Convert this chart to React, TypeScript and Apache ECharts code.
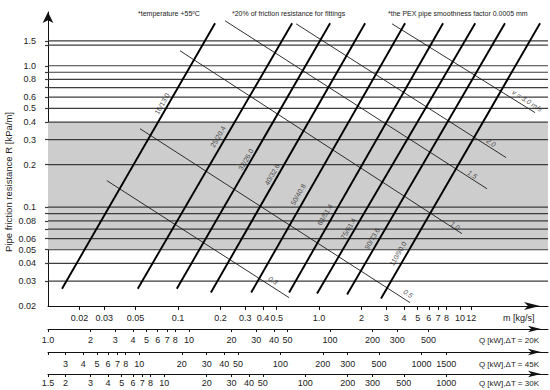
import React, { useEffect, useRef } from "react";
import * as echarts from "echarts";

const FONT = "'Liberation Sans', Arial, Helvetica, sans-serif";

// ---- axis ranges (m in kg/s, R in kPa/m) ----
const M_MIN = 1 / 83.6; // so that Q(ΔT=20K) starts at 1.0 kW
const M_MAX = 42;
const R_MIN = 0.02;
const R_MAX = 2.4;
const CP = 4.18; // kJ/(kg·K)

// ---- y axis (friction resistance R) ----
const rTicks = [1.5, 1.0, 0.8, 0.6, 0.5, 0.4, 0.3, 0.2, 0.1, 0.08, 0.06, 0.05, 0.04, 0.03, 0.02];
const rTickLabels = ["1.5", "1.0", "0.8", "0.6", "0.5", "0.4", "0.3", "0.2", "0.1", "0.08", "0.06", "0.05", "0.04", "0.03", "0.02"];
const rGridLines = [1.5, 1.4, 1.0, 0.9, 0.8, 0.7, 0.6, 0.5, 0.4, 0.3, 0.2, 0.1, 0.09, 0.08, 0.07, 0.06, 0.05, 0.04, 0.03];
const shadedBand = [0.05, 0.4];

// ---- x axis (mass flow m) ----
const mTicks = [0.02, 0.03, 0.05, 0.1, 0.2, 0.3, 0.4, 0.5, 1, 2, 3, 4, 5, 6, 7, 8, 10, 12];
const mTickLabels = ["0.02", "0.03", "0.05", "0.1", "0.2", "0.3", "0.4", "0.5", "1.0", "2", "3", "4", "5", "6", "7", "8", "10", "12"];

// ---- heat output scales ----
const q20Ticks = [1.0, 2, 3, 4, 5, 6, 7, 8, 10, 20, 30, 40, 50, 100, 200, 300, 500];
const q20Labels = ["1.0", "2", "3", "4", "5", "6", "7", "8", "10", "20", "30", "40", "50", "100", "200", "300", "500"];
const q45Ticks = [3, 4, 5, 6, 7, 8, 10, 20, 30, 40, 50, 100, 200, 300, 500, 1000, 1500];
const q45Labels = ["3", "4", "5", "6", "7", "8", "10", "20", "30", "40", "50", "100", "200", "300", "500", "1000", "1500"];
const q30Ticks = [1.5, 2, 3, 4, 5, 6, 7, 8, 10, 20, 30, 40, 50, 100, 200, 300, 500, 1000];
const q30Labels = ["1.5", "2", "3", "4", "5", "6", "7", "8", "10", "20", "30", "40", "50", "100", "200", "300", "500", "1000"];

// ---- pipe lines: [m, R] start and end ----
const pipeNames = ["16/13.0", "25/20.4", "32/26.0", "40/32.6", "50/40.8", "63/51.4", "75/61.4", "90/73.6", "110/90.0"];
const pipeStart = [
  [0.01504, 0.0265], [0.0518, 0.0265], [0.098, 0.0265], [0.171, 0.0249], [0.33, 0.0249],
  [0.613, 0.0249], [0.968, 0.0245], [1.58, 0.0241], [2.75, 0.0226],
];
const pipeEnd = [
  [0.183, 2.0], [0.644, 2.0], [1.197, 2.0], [2.12, 2.0], [4.07, 2.0],
  [7.57, 2.0], [12.8, 2.0], [20.8, 2.0], [36.9, 2.0],
];
const pipeLabelAt = [
  [0.077, 0.539], [0.192, 0.315], [0.303, 0.217], [0.464, 0.17], [0.71, 0.123],
  [1.1, 0.0885], [1.61, 0.0705], [2.38, 0.0599], [3.63, 0.0469],
];

// ---- velocity lines ----
const velocityNames = ["0.3", "0.5", "1.0", "1.5", "2.0", "v = 3.0 m/s"];
const velocityStart = [[0.0313, 0.154], [0.0537, 0.359], [0.1033, 1.276], [0.2155, 2.08], [0.687, 1.98], [3.29, 1.98]];
const velocityEnd = [[0.613, 0.0229], [4.42, 0.0211], [10.3, 0.065], [15.5, 0.135], [21.2, 0.224], [34.0, 0.466]];
const velocityLabelAt = [[0.472, 0.0303], [4.28, 0.0245], [9.22, 0.074], [12.2, 0.17], [16.6, 0.286], [29.9, 0.566]];

const notes = ["*temperature +55ºC", "*20% of friction resistance for fittings", "*the PEX pipe smoothness factor 0.0005 mm"];

const fmt = (vals: number[], labels: string[]) => (v: number) => {
  const i = vals.findIndex((t) => Math.abs(t - v) / t < 1e-6);
  return i >= 0 ? labels[i] : "";
};

const qAxis = (dT: number, offset: number, ticks: number[], labels: string[], margin: number) => ({
  type: "log",
  min: +(M_MIN * CP * dT).toFixed(4),
  max: M_MAX * CP * dT,
  position: "bottom",
  offset,
  gridIndex: 0,
  axisLine: {
    show: true,
    symbol: ["none", "arrow"],
    symbolSize: [5, 13],
    symbolOffset: [0, -7],
    lineStyle: { color: "#111", width: 1 },
  },
  axisTick: { show: true, customValues: [+(M_MIN * CP * dT).toFixed(4), ...ticks], length: 3, lineStyle: { color: "#111" } },
  axisLabel: { show: true, customValues: ticks, formatter: fmt(ticks, labels), fontSize: 9, color: "#222", margin, fontFamily: FONT },
  splitLine: { show: false },
  minorTick: { show: false },
  minorSplitLine: { show: false },
});

export default function App() {
  const ref = useRef<HTMLDivElement>(null);
  useEffect(() => {
    if (!ref.current) return;
    const chart = echarts.init(ref.current, undefined, { renderer: "svg" });

    const series: any[] = [];
    // shaded band + horizontal grid lines
    series.push({
      type: "line",
      silent: true,
      data: [[M_MIN, R_MIN]],
      showSymbol: false,
      lineStyle: { opacity: 0 },
      markArea: {
        silent: true,
        itemStyle: { color: "#cdcdcd" },
        data: [[{ yAxis: shadedBand[0] }, { yAxis: shadedBand[1] }]],
      },
      z: 1,
    });
    rGridLines.forEach((r) => {
      series.push({
        type: "line",
        silent: true,
        data: [[M_MIN, r], [M_MAX, r]],
        showSymbol: false,
        lineStyle: { color: "#3c3c3c", width: 1.2 },
        z: 2,
      });
    });
    velocityNames.forEach((_, i) => {
      series.push({
        type: "line",
        silent: true,
        data: [velocityStart[i], velocityEnd[i]],
        showSymbol: false,
        lineStyle: { color: "#1a1a1a", width: 0.9 },
        z: 3,
      });
    });
    pipeNames.forEach((_, i) => {
      series.push({
        type: "line",
        silent: true,
        data: [pipeStart[i], pipeEnd[i]],
        showSymbol: false,
        lineStyle: { color: "#000", width: 1.9 },
        z: 4,
      });
    });
    series.push({
      type: "scatter",
      silent: true,
      symbolSize: 1,
      itemStyle: { color: "rgba(0,0,0,0)" },
      data: pipeNames.map((n, i) => ({ value: pipeLabelAt[i], name: n })),
      label: {
        show: true,
        position: "inside",
        formatter: (p: any) => p.name,
        rotate: 60,
        fontSize: 7,
        color: "#222",
        fontFamily: FONT,
      },
      z: 5,
    });
    series.push({
      type: "scatter",
      silent: true,
      symbolSize: 1,
      itemStyle: { color: "rgba(0,0,0,0)" },
      data: velocityNames.map((n, i) => ({ value: velocityLabelAt[i], name: n })),
      label: {
        show: true,
        position: "inside",
        formatter: (p: any) => p.name,
        rotate: -33,
        fontSize: 7,
        fontStyle: "italic",
        color: "#222",
        fontFamily: FONT,
      },
      z: 5,
    });

    const option: any = {
      animation: false,
      textStyle: { fontFamily: FONT },
      grid: { left: 48, right: 2, top: 12, bottom: 84, containLabel: false },
      xAxis: [
        {
          type: "log",
          min: M_MIN,
          max: M_MAX,
          position: "bottom",
          axisLine: {
            show: true,
            symbol: ["none", "arrow"],
            symbolSize: [6, 16],
            symbolOffset: [0, -8],
            lineStyle: { color: "#111", width: 1 },
          },
          axisTick: { show: true, customValues: mTicks, length: 4, lineStyle: { color: "#111" } },
          axisLabel: { show: true, customValues: mTicks, formatter: fmt(mTicks, mTickLabels), fontSize: 9, color: "#222", margin: 7, fontFamily: FONT },
          splitLine: { show: false },
          minorTick: { show: false },
        },
        qAxis(20, 23, q20Ticks, q20Labels, 6),
        qAxis(45, 46, q45Ticks, q45Labels, 7),
        qAxis(30, 68, q30Ticks, q30Labels, 4),
      ],
      yAxis: {
        type: "log",
        min: R_MIN,
        max: R_MAX,
        axisLine: {
          show: true,
          symbol: ["none", "arrow"],
          symbolSize: [8, 11],
          lineStyle: { color: "#111", width: 1 },
        },
        axisTick: { show: true, customValues: rGridLines, length: 3, lineStyle: { color: "#3c3c3c", width: 1.2 } },
        axisLabel: { show: true, customValues: rTicks, formatter: fmt(rTicks, rTickLabels), fontSize: 9, color: "#222", margin: 12, fontFamily: FONT },
        splitLine: { show: false },
        minorTick: { show: false },
      },
      graphic: [
        { type: "text", left: 138, top: 10, style: { text: notes[0], fontSize: 7, fill: "#222", fontFamily: FONT } },
        { type: "text", left: 232, top: 10, style: { text: notes[1], fontSize: 7, fill: "#222", fontFamily: FONT } },
        { type: "text", left: 388, top: 10, style: { text: notes[2], fontSize: 7, fill: "#222", fontFamily: FONT } },
        {
          type: "text",
          x: 8,
          y: 182,
          rotation: Math.PI / 2,
          style: { text: "Pipe friction resistance R [kPa/m]", fontSize: 9.5, fill: "#222", fontFamily: FONT, align: "center", verticalAlign: "middle" },
        },
        { type: "text", x: 503, y: 318, style: { text: "m [kg/s]", fontSize: 9, fill: "#222", fontFamily: FONT, verticalAlign: "middle" } },
        { type: "text", x: 539, y: 340, style: { text: "Q [kW],ΔT = 20K", fontSize: 8, fill: "#222", fontFamily: FONT, align: "right", verticalAlign: "middle" } },
        { type: "text", x: 539, y: 364, style: { text: "Q [kW],ΔT = 45K", fontSize: 8, fill: "#222", fontFamily: FONT, align: "right", verticalAlign: "middle" } },
        { type: "text", x: 539, y: 383, style: { text: "Q [kW],ΔT = 30K", fontSize: 8, fill: "#222", fontFamily: FONT, align: "right", verticalAlign: "middle" } },
      ],
      series,
    };
    chart.setOption(option);
    return () => chart.dispose();
  }, []);
  return <div ref={ref} style={{ position: "fixed", left: 0, top: 0, width: 550, height: 390, background: "#fff" }} />;
}
